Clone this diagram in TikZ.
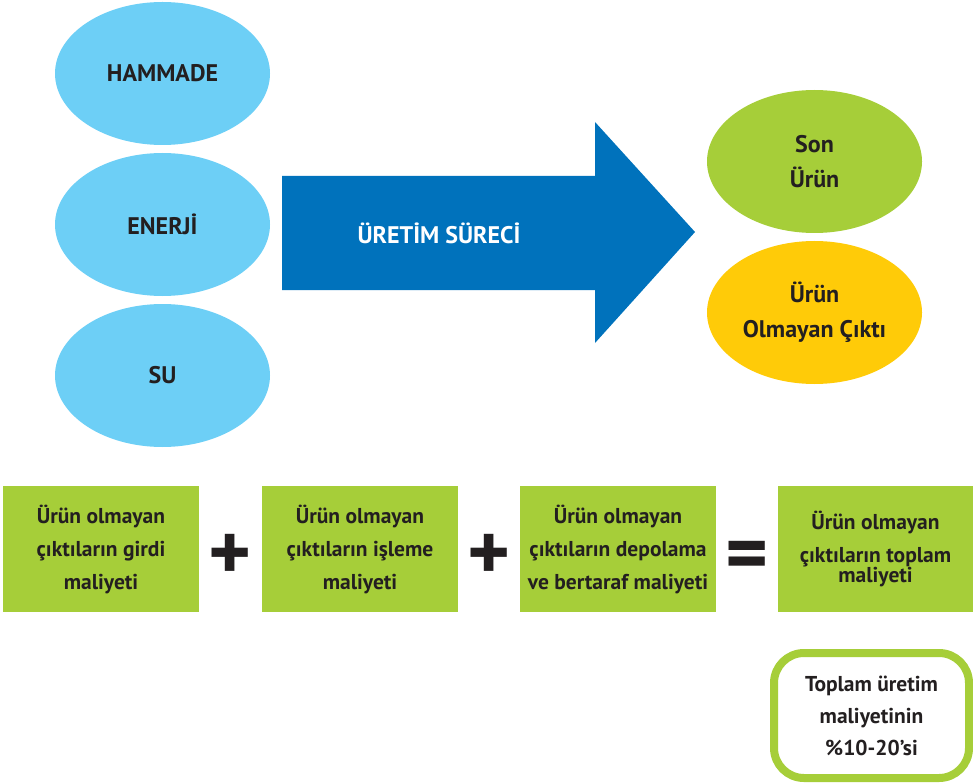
\documentclass[tikz,border=0pt]{standalone}
\usepackage{fontspec}
\setmainfont{PT Sans}
\usetikzlibrary{shapes.geometric}
\definecolor{lblue}{HTML}{6DCFF6}
\definecolor{dblue}{HTML}{0072BC}
\definecolor{lgreen}{HTML}{A6CE39}
\definecolor{lyellow}{HTML}{FFCB08}
\definecolor{ink}{HTML}{231F20}
\tikzset{
  oval/.style={ellipse, minimum width=215pt, minimum height=143pt, inner sep=0pt, text=ink, font=\bfseries\fontsize{24}{35}\selectfont, align=center},
  gbox/.style={fill=lgreen, minimum width=196pt, minimum height=126pt, inner sep=0pt, text=ink, font=\bfseries\fontsize{21.5}{33}\selectfont, align=center},
  opsign/.style={text=ink, font=\bfseries\fontsize{82}{82}\selectfont, inner sep=0pt},
}
\begin{document}
\begin{tikzpicture}[x=1pt,y=-1pt]
\useasboundingbox (0,0) rectangle (973,783);
% input ovals
\node[oval, fill=lblue] (ham) at (162.5,73.5) {HAMMADE};
\node[oval, fill=lblue] (ene) at (162.5,224.5) {ENERJİ};
\node[oval, fill=lblue] (su) at (162.5,375.5) {SU};
% process arrow
\fill[dblue] (282,176) -- (595,176) -- (595,122) -- (695,232) -- (595,343) -- (595,290) -- (282,290) -- cycle;
\node[text=white, font=\bfseries\fontsize{24}{28}\selectfont] (proc) at (439,233) {ÜRETİM SÜRECİ};
% outputs
\node[oval, fill=lgreen] (son) at (814.5,161.5) {Son\\Ürün};
\node[oval, fill=lyellow] (uoc) at (814.5,312.5) {Ürün\\Olmayan Çıktı};
% cost equation
\node[gbox] (b1) at (101,549) {Ürün olmayan\\çıktıların girdi\\maliyeti};
\node[gbox] (b2) at (360,549) {Ürün olmayan\\çıktıların işleme\\maliyeti};
\node[gbox] (b3) at (618,549) {Ürün olmayan\\çıktıların depolama\\ve bertaraf maliyeti};
\node[gbox, minimum width=195pt] (b4) at (875.5,549) {Ürün olmayan\\çıktıların toplam\\[-13pt]maliyeti};
\node[opsign] (p1) at (230.5,557) {+};
\node[opsign] (p2) at (489.5,557) {+};
\node[opsign] (eq) at (747.5,561) {=};
% share box
\node[draw=lgreen, line width=8pt, rounded corners=30pt, fill=white, minimum width=195pt, minimum height=125pt, inner sep=0pt, text=ink, font=\bfseries\fontsize{21.5}{32}\selectfont, align=center] (share) at (871.5,715.5) {Toplam üretim\\maliyetinin\\\%10-20’si};
\end{tikzpicture}
\end{document}
